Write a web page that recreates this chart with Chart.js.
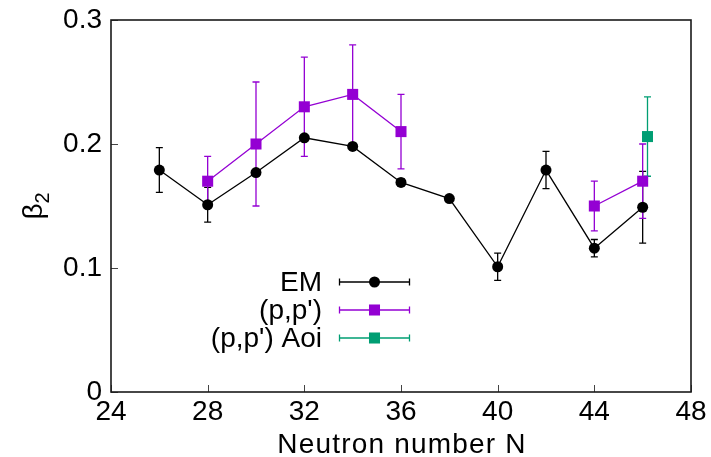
<!DOCTYPE html>
<html>
<head>
<meta charset="utf-8">
<script src="https://cdn.jsdelivr.net/npm/chart.js@4"></script>
<style>
  html, body { margin: 0; padding: 0; background: #fff; }
  #wrap { width: 711px; height: 457px; }
</style>
</head>
<body>
<div id="wrap"><canvas id="chart" width="711" height="457"></canvas></div>
<script>
// EM data
const emN = [26, 28, 30, 32, 34, 36, 38, 40, 42, 44, 46];
const emBeta = [0.179, 0.151, 0.177, 0.205, 0.198, 0.169, 0.156, 0.101, 0.179, 0.116, 0.149];
const emErr = [0.018, 0.014, 0, 0, 0, 0.003, 0, 0.011, 0.015, 0.007, 0.029];

// (p,p') data, null breaks the line between 36 and 44
const ppN = [28, 30, 32, 34, 36, 40, 44, 46];
const ppBeta = [0.170, 0.200, 0.230, 0.240, 0.210, null, 0.150, 0.170];
const ppErr = [0.020, 0.050, 0.040, 0.040, 0.030, null, 0.020, 0.030];

// (p,p') Aoi
const aoiN = [46.2];
const aoiBeta = [0.206];
const aoiErr = [0.032];

const xTicks = [24, 28, 32, 36, 40, 44, 48];
const yTicks = [0, 0.1, 0.2, 0.3];

const FONT = "'Liberation Sans', Arial, sans-serif";
const BLACK = "#000000";
const PURPLE = "#9400d3";
const GREEN = "#009e73";

function points(xs, ys) {
  return xs.map((x, i) => ({ x: x, y: ys[i] }));
}

const series = [
  { label: "EM", n: emN, beta: emBeta, err: emErr, color: BLACK, style: "circle", radius: 5.5 },
  { label: "(p,p')", n: ppN, beta: ppBeta, err: ppErr, color: PURPLE, style: "rect", radius: 7.8 },
  { label: "(p,p') Aoi", n: aoiN, beta: aoiBeta, err: aoiErr, color: GREEN, style: "rect", radius: 7.8 },
];

const decor = {
  id: "decor",
  beforeDatasetsDraw(chart) {
    const ctx = chart.ctx;
    const xs = chart.scales.x;
    const ys = chart.scales.y;
    ctx.save();
    ctx.lineWidth = 1.3;
    series.forEach((s) => {
      ctx.strokeStyle = s.color;
      s.n.forEach((n, i) => {
        const e = s.err[i];
        if (!e || s.beta[i] == null) return;
        const px = xs.getPixelForValue(n);
        const top = ys.getPixelForValue(s.beta[i] + e);
        const bot = ys.getPixelForValue(s.beta[i] - e);
        ctx.beginPath();
        ctx.moveTo(px, top);
        ctx.lineTo(px, bot);
        ctx.moveTo(px - 3.5, top);
        ctx.lineTo(px + 3.5, top);
        ctx.moveTo(px - 3.5, bot);
        ctx.lineTo(px + 3.5, bot);
        ctx.stroke();
      });
    });
    ctx.restore();
  },
  afterDraw(chart) {
    const ctx = chart.ctx;
    const a = chart.chartArea;
    const xs = chart.scales.x;
    const ys = chart.scales.y;
    ctx.save();

    // inward ticks
    ctx.strokeStyle = "#444";
    ctx.lineWidth = 1;
    ctx.beginPath();
    xTicks.forEach((t) => {
      const px = Math.round(xs.getPixelForValue(t)) + 0.5;
      ctx.moveTo(px, a.bottom);
      ctx.lineTo(px, a.bottom - 7);
    });
    yTicks.forEach((t) => {
      const py = Math.round(ys.getPixelForValue(t)) + 0.5;
      ctx.moveTo(a.left, py);
      ctx.lineTo(a.left + 7, py);
    });
    ctx.stroke();

    // frame
    ctx.strokeStyle = "#1a1a1a";
    ctx.lineWidth = 1.6;
    ctx.strokeRect(a.left, a.top, a.right - a.left, a.bottom - a.top);

    // axis titles
    ctx.fillStyle = "#000";
    ctx.textAlign = "center";
    ctx.textBaseline = "alphabetic";
    ctx.font = "28px " + FONT;
    ctx.letterSpacing = "1.2px";
    ctx.fillText("Neutron number N", (a.left + a.right) / 2 + 1, 453);
    ctx.letterSpacing = "0px";

    ctx.translate(42, 206);
    ctx.rotate(-Math.PI / 2);
    ctx.font = "28px " + FONT;
    ctx.textAlign = "left";
    const bw = ctx.measureText("β").width;
    ctx.font = "20px " + FONT;
    const sw = ctx.measureText("2").width;
    const start = -(bw + sw) / 2;
    ctx.font = "28px " + FONT;
    ctx.fillText("β", start, 0);
    ctx.font = "20px " + FONT;
    ctx.fillText("2", start + bw, 7);
    ctx.setTransform(1, 0, 0, 1, 0, 0);

    // legend
    const rows = [282, 310, 338];
    series.forEach((s, i) => {
      const y = rows[i];
      ctx.font = "28px " + FONT;
      ctx.textAlign = "right";
      ctx.textBaseline = "middle";
      ctx.fillStyle = "#000";
      ctx.fillText(s.label, 322, y + 1);
      ctx.strokeStyle = s.color;
      ctx.lineWidth = 1.3;
      ctx.beginPath();
      ctx.moveTo(339, y);
      ctx.lineTo(410, y);
      ctx.moveTo(339.5, y - 3.5);
      ctx.lineTo(339.5, y + 3.5);
      ctx.moveTo(409.5, y - 3.5);
      ctx.lineTo(409.5, y + 3.5);
      ctx.stroke();
      ctx.fillStyle = s.color;
      if (s.style === "circle") {
        ctx.beginPath();
        ctx.arc(374.5, y, s.radius, 0, Math.PI * 2);
        ctx.fill();
      } else {
        const h = s.radius * Math.SQRT1_2;
        ctx.fillRect(374.5 - h, y - h, 2 * h, 2 * h);
      }
    });
    ctx.restore();
  },
};

new Chart(document.getElementById("chart").getContext("2d"), {
  type: "line",
  data: {
    datasets: series.map((s) => ({
      label: s.label,
      data: points(s.n, s.beta),
      borderColor: s.color,
      backgroundColor: s.color,
      borderWidth: 1.3,
      pointStyle: s.style,
      pointRadius: s.radius,
      pointBorderWidth: 0,
      spanGaps: false,
      tension: 0,
    })),
  },
  options: {
    responsive: false,
    animation: false,
    devicePixelRatio: 1,
    layout: { padding: { top: 20, right: 20, left: 0, bottom: 0 } },
    plugins: { legend: { display: false }, tooltip: { enabled: false } },
    scales: {
      x: {
        type: "linear",
        min: 24,
        max: 48,
        afterFit: (s) => {
          s.height = 65;
          s.paddingLeft = 0;
          s.paddingRight = 0;
        },
        afterBuildTicks: (s) => { s.ticks = xTicks.map((v) => ({ value: v })); },
        grid: { display: false, drawTicks: false },
        border: { display: false },
        ticks: { color: "#000", padding: 3, maxRotation: 0, font: { family: FONT, size: 28 } },
      },
      y: {
        type: "linear",
        min: 0,
        max: 0.3,
        afterFit: (s) => {
          s.width = 111;
          s.paddingTop = 0;
          s.paddingBottom = 0;
        },
        afterBuildTicks: (s) => { s.ticks = yTicks.map((v) => ({ value: v })); },
        grid: { display: false, drawTicks: false },
        border: { display: false },
        ticks: {
          color: "#000",
          padding: 9,
          font: { family: FONT, size: 28 },
          callback: (v) => String(Math.round(v * 10) / 10),
        },
      },
    },
  },
  plugins: [decor],
});
</script>
</body>
</html>
